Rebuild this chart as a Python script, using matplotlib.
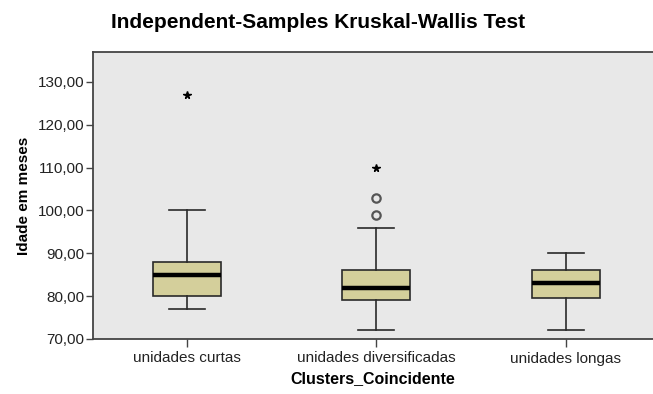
import matplotlib.pyplot as plt

plt.rcParams['font.family'] = ['Liberation Sans', 'DejaVu Sans']

groups = ['unidades curtas', 'unidades diversificadas', 'unidades longas']
whisker_low = [77, 72, 72]
q1 = [80, 79, 79.5]
median = [85, 82, 83]
q3 = [88, 86, 86]
whisker_high = [100, 96, 90]
outliers = [[], [99, 103], []]
extremes = [[127], [110], []]

stats = []
for i, name in enumerate(groups):
    stats.append({
        'label': name,
        'whislo': whisker_low[i],
        'q1': q1[i],
        'med': median[i],
        'q3': q3[i],
        'whishi': whisker_high[i],
        'fliers': [],
    })

fig = plt.figure(figsize=(6.53, 3.94), dpi=100)
ax = fig.add_axes([93 / 653, 1 - 339 / 394, 560 / 653, 287 / 394])
ax.set_facecolor('#e8e8e8')

ax.bxp(stats, positions=[1, 2, 3], widths=0.36, patch_artist=True,
       showfliers=False,
       boxprops=dict(facecolor='#d4cf9b', edgecolor='#2a2a2a', linewidth=1.2),
       medianprops=dict(color='black', linewidth=3.2),
       whiskerprops=dict(color='#2a2a2a', linewidth=1.2),
       capprops=dict(color='#2a2a2a', linewidth=1.2),
       capwidths=0.19)

for i in range(3):
    if outliers[i]:
        ax.plot([i + 1] * len(outliers[i]), outliers[i], 'o', ms=6,
                mfc='none', mec='#555555', mew=1.6)
    if extremes[i]:
        ax.plot([i + 1] * len(extremes[i]), extremes[i], '*', ms=5.5,
                color='black')

ax.set_xlim(0.505, 3.46)
ax.set_ylim(70, 137)
ax.set_yticks([70, 80, 90, 100, 110, 120, 130])
ax.set_yticklabels(['70,00', '80,00', '90,00', '100,00', '110,00', '120,00', '130,00'])
ax.set_xticks([1, 2, 3])
ax.set_xticklabels(groups)

for side in ['left', 'top', 'bottom']:
    ax.spines[side].set_color('#444444')
    ax.spines[side].set_linewidth(1.3)
ax.spines['right'].set_visible(False)
ax.tick_params(axis='y', length=5, width=1, color='#444444', labelsize=11,
               labelcolor='#222222', pad=1)
ax.tick_params(axis='x', length=6, width=1, color='#444444', labelsize=11,
               labelcolor='#222222', pad=3)

ax.set_ylabel('Idade em meses', fontsize=11, fontweight='bold', labelpad=5)
ax.set_xlabel('Clusters_Coincidente', fontsize=11.5, fontweight='bold', labelpad=4)

fig.text(318 / 653, 1 - 22 / 394, 'Independent-Samples Kruskal-Wallis Test',
         ha='center', va='center', fontsize=15, fontweight='bold')

fig.savefig('out.png', dpi=100)
